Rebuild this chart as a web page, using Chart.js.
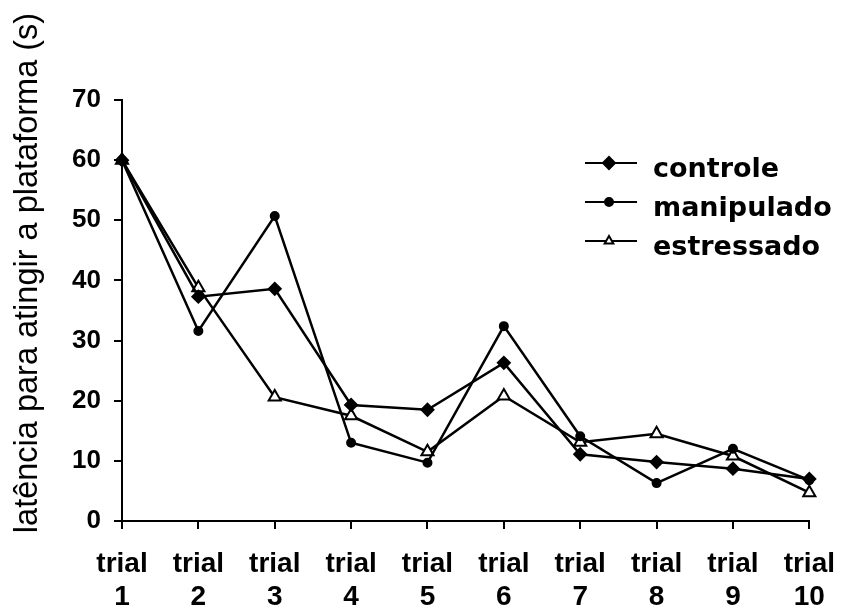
<!DOCTYPE html>
<html>
<head>
<meta charset="utf-8">
<script src="https://cdn.jsdelivr.net/npm/chart.js@4"></script>
<style>
  html, body { margin: 0; padding: 0; background: #fff; }
  #wrap { width: 853px; height: 609px; }
</style>
</head>
<body>
<div id="wrap"><canvas id="latencyChart" width="853" height="609"></canvas></div>
<script>
// values
var trials = [['trial','1'],['trial','2'],['trial','3'],['trial','4'],['trial','5'],
              ['trial','6'],['trial','7'],['trial','8'],['trial','9'],['trial','10']];
var controle    = [60, 37.3, 38.6, 19.3, 18.5, 26.3, 11.1, 9.8, 8.7, 7.0];
var manipulado  = [60, 31.6, 50.7, 13.0, 9.7, 32.4, 14.1, 6.3, 12.0, 6.8];
var estressado  = [60, 38.8, 20.6, 17.5, 11.5, 20.8, 13.1, 14.5, 10.8, 4.7];
var yTicks = [0, 10, 20, 30, 40, 50, 60, 70];
var yTitle = 'latência para atingir a plataforma (s)';

var legendItems = [
    { label: 'controle', style: 'rectRot', radius: 6, fill: '#000' },
    { label: 'manipulado', style: 'circle', radius: 4, fill: '#000' },
    { label: 'estressado', style: 'triangle', radius: 5, fill: '#fff' }
];

// rotated axis title, placed where the original sits
var titlePlugin = {
    id: 'yTitle',
    afterDraw: function(chart) {
        var ctx = chart.ctx;
        ctx.save();
        ctx.font = '100px "Liberation Sans", Arial, sans-serif';
        var size = 100 * 520 / ctx.measureText(yTitle).width;
        ctx.font = size.toFixed(1) + 'px "Liberation Sans", Arial, sans-serif';
        ctx.fillStyle = '#000';
        ctx.translate(37, 273);
        ctx.rotate(-Math.PI / 2);
        ctx.textAlign = 'center';
        ctx.textBaseline = 'alphabetic';
        ctx.fillText(yTitle, 0, 0);
        ctx.restore();
    }
};

// legend drawn inside the plot like the figure
var legendPlugin = {
    id: 'innerLegend',
    afterDraw: function(chart) {
        var ctx = chart.ctx;
        ctx.save();
        legendItems.forEach(function(item, i) {
            var y = 163 + i * 39;
            ctx.strokeStyle = '#000';
            ctx.lineWidth = 2;
            ctx.beginPath();
            ctx.moveTo(585, y);
            ctx.lineTo(637, y);
            ctx.stroke();
            ctx.fillStyle = item.fill;
            Chart.helpers.drawPoint(ctx, {
                pointStyle: item.style, radius: item.radius, borderWidth: 2, rotation: 0
            }, 609, y);
            ctx.fillStyle = '#000';
            ctx.font = 'bold 27px "DejaVu Sans", sans-serif';
            ctx.textAlign = 'left';
            ctx.textBaseline = 'alphabetic';
            ctx.fillText(item.label, 653, y + 14);
        });
        ctx.restore();
    }
};

function series(label, data, style, radius, fill) {
    return {
        label: label,
        data: data,
        borderColor: '#000',
        borderWidth: 2.5,
        pointStyle: style,
        pointRadius: radius,
        pointBackgroundColor: fill,
        pointBorderColor: '#000',
        pointBorderWidth: 2,
        tension: 0,
        clip: false
    };
}

new Chart(document.getElementById('latencyChart').getContext('2d'), {
    type: 'line',
    data: {
        labels: trials,
        datasets: [
            series('controle', controle, 'rectRot', 6, '#000'),
            series('manipulado', manipulado, 'circle', 4, '#000'),
            series('estressado', estressado, 'triangle', 7, '#fff')
        ]
    },
    options: {
        responsive: false,
        animation: false,
        layout: { padding: { left: 0, top: 100, right: 43, bottom: 0 } },
        plugins: {
            legend: { display: false },
            tooltip: { enabled: false }
        },
        scales: {
            x: {
                offset: false,
                grid: { offset: false, drawOnChartArea: false, color: '#000', lineWidth: 2, tickLength: 8 },
                border: { color: '#000', width: 2 },
                ticks: {
                    color: '#000',
                    maxRotation: 0,
                    autoSkip: false,
                    padding: 18,
                    font: { family: '"Liberation Sans", Arial, sans-serif', size: 28, weight: 'bold', lineHeight: 1.2 }
                },
                afterFit: function(scale) { scale.height = 88; }
            },
            y: {
                min: 0,
                max: 70,
                afterBuildTicks: function(scale) {
                    scale.ticks = yTicks.map(function(v) { return { value: v }; });
                },
                grid: { drawOnChartArea: false, color: '#000', lineWidth: 2, tickLength: 8 },
                border: { color: '#000', width: 2 },
                ticks: {
                    color: '#000',
                    padding: 13,
                    font: { family: '"Liberation Sans", Arial, sans-serif', size: 26, weight: 'bold' }
                },
                afterFit: function(scale) { scale.width = 122; }
            }
        }
    },
    plugins: [titlePlugin, legendPlugin]
});
</script>
</body>
</html>
